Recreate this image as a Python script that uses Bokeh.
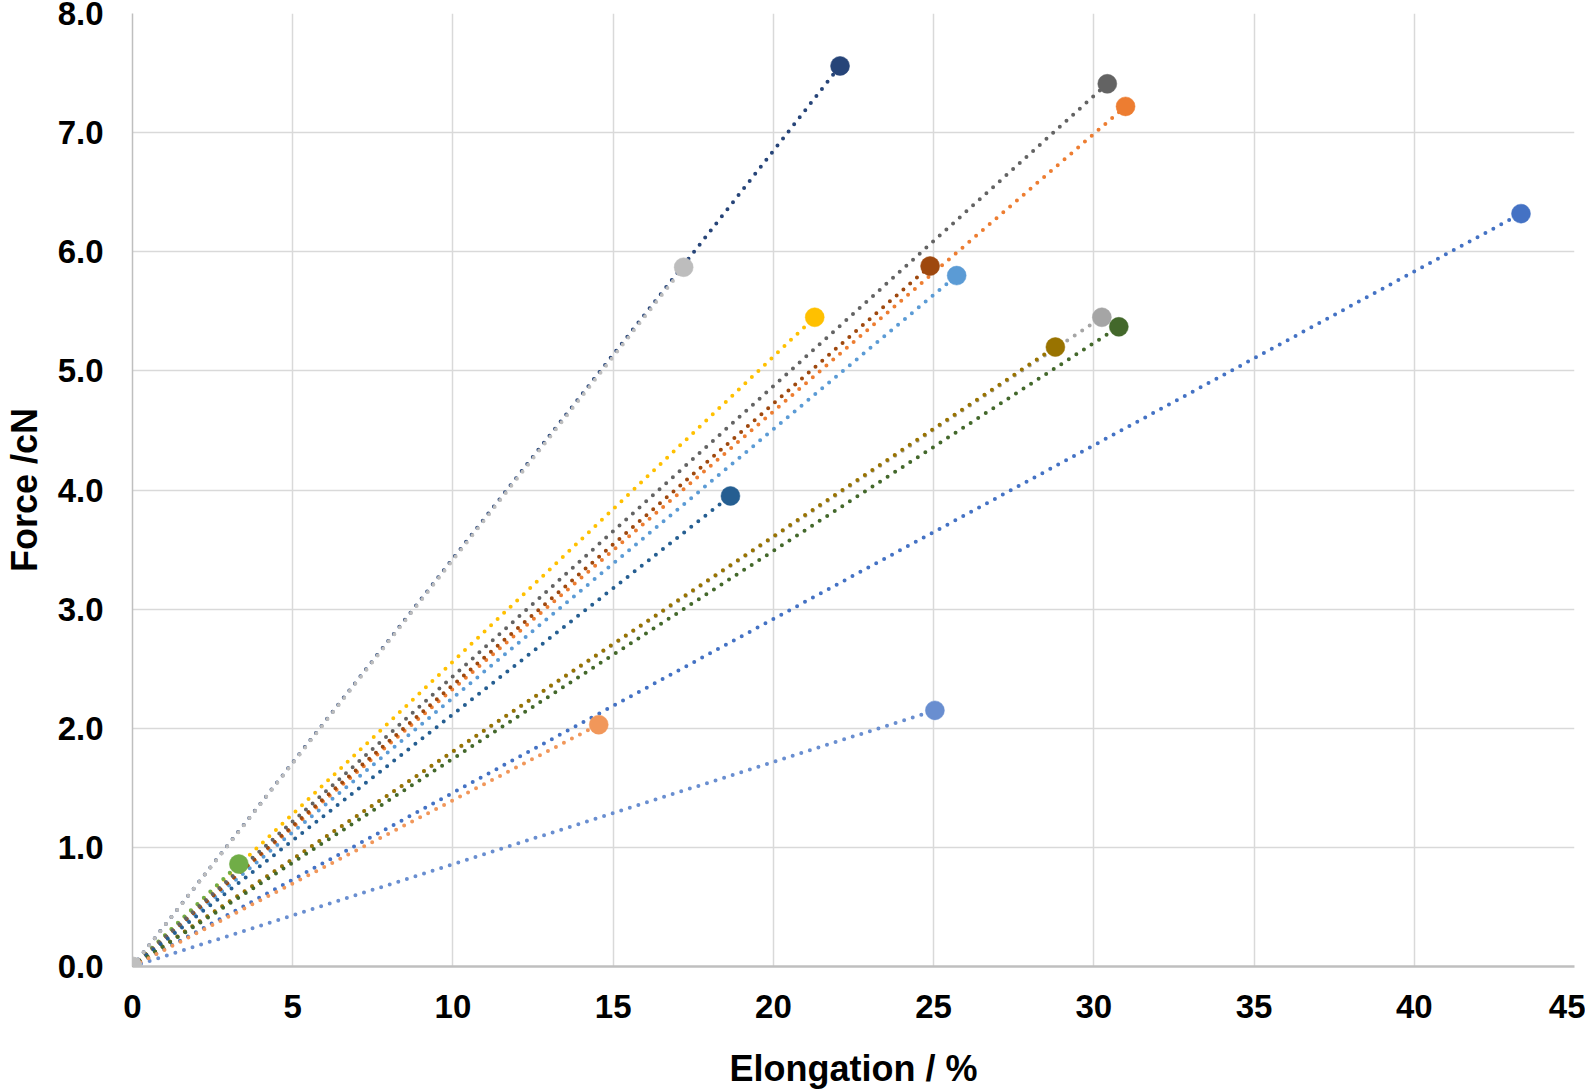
from bokeh.plotting import figure
from bokeh.models import FixedTicker, Range1d
from bokeh.embed import file_html
from bokeh.resources import INLINE

# Endpoints of each series (each series runs from the origin to its endpoint)
elong = [43.33, 30.99, 30.25, 21.29, 25.72, 3.32, 22.08, 24.89, 30.42, 28.80, 18.66, 30.78, 25.04, 14.55, 17.20]
force = [6.32, 7.22, 5.45, 5.45, 5.80, 0.86, 7.56, 5.88, 7.41, 5.20, 3.95, 5.37, 2.15, 2.03, 5.87]
colors = ["#4472C4", "#ED7D31", "#A5A5A5", "#FFC000", "#5B9BD5", "#70AD47",
          "#264478", "#9E480E", "#636363", "#997300", "#255E91", "#43682B",
          "#698ED0", "#F1975A", "#BDBDBD"]
origin_x = [0.0]
origin_y = [0.0]

x_ticks = [0, 5, 10, 15, 20, 25, 30, 35, 40, 45]
y_ticks = [0, 1, 2, 3, 4, 5, 6, 7, 8]
y_tick_labels = ["0.0", "1.0", "2.0", "3.0", "4.0", "5.0", "6.0", "7.0", "8.0"]

FONT = "Liberation Sans"

p = figure(output_backend="svg", toolbar_location=None,
           frame_width=1442, frame_height=953,
           min_border_left=100, min_border_right=11,
           min_border_top=13, min_border_bottom=109,
           x_range=Range1d(0, 45), y_range=Range1d(0, 8))
p.outline_line_color = None
p.background_fill_color = "white"
p.border_fill_color = "white"

p.xaxis.ticker = FixedTicker(ticks=x_ticks)
p.yaxis.ticker = FixedTicker(ticks=y_ticks)
p.yaxis.major_label_overrides = {t: l for t, l in zip(y_ticks, y_tick_labels)}

for ax in (p.xaxis[0], p.yaxis[0]):
    ax.major_tick_line_color = None
    ax.minor_tick_line_color = None
    ax.major_label_text_font = FONT
    ax.major_label_text_font_style = "bold"
    ax.major_label_text_font_size = "33px"
    ax.major_label_text_color = "black"
    ax.axis_label_text_font = FONT
    ax.axis_label_text_font_style = "bold"
    ax.axis_label_text_font_size = "36px"
    ax.axis_label_text_color = "black"

p.xaxis.axis_label = "Elongation / %"
p.yaxis.axis_label = "Force /cN"
p.xaxis.major_label_standoff = 22
p.yaxis.major_label_standoff = 23
p.xaxis.axis_label_standoff = 27
p.yaxis.axis_label_standoff = 10
p.xaxis.axis_line_color = "#BFBFBF"
p.xaxis.axis_line_width = 2.5
p.yaxis.axis_line_color = "#BFBFBF"
p.yaxis.axis_line_width = 1.5

p.xgrid.grid_line_color = "#D9D9D9"
p.ygrid.grid_line_color = "#D9D9D9"
p.xgrid.grid_line_width = 1.5
p.ygrid.grid_line_width = 1.5

for ex, fy, c in zip(elong, force, colors):
    p.line([0, ex], [0, fy], line_color=c, line_width=4,
           line_dash="0 9", line_cap="round")
for ex, fy, c in zip(elong, force, colors):
    p.scatter([ex], [fy], size=19, fill_color=c, line_color=c, line_width=0.5)

p.scatter(origin_x, origin_y, size=19, fill_color="#BFBFBF", line_color="#BFBFBF")

open("out.html", "w").write(file_html(p, INLINE))
